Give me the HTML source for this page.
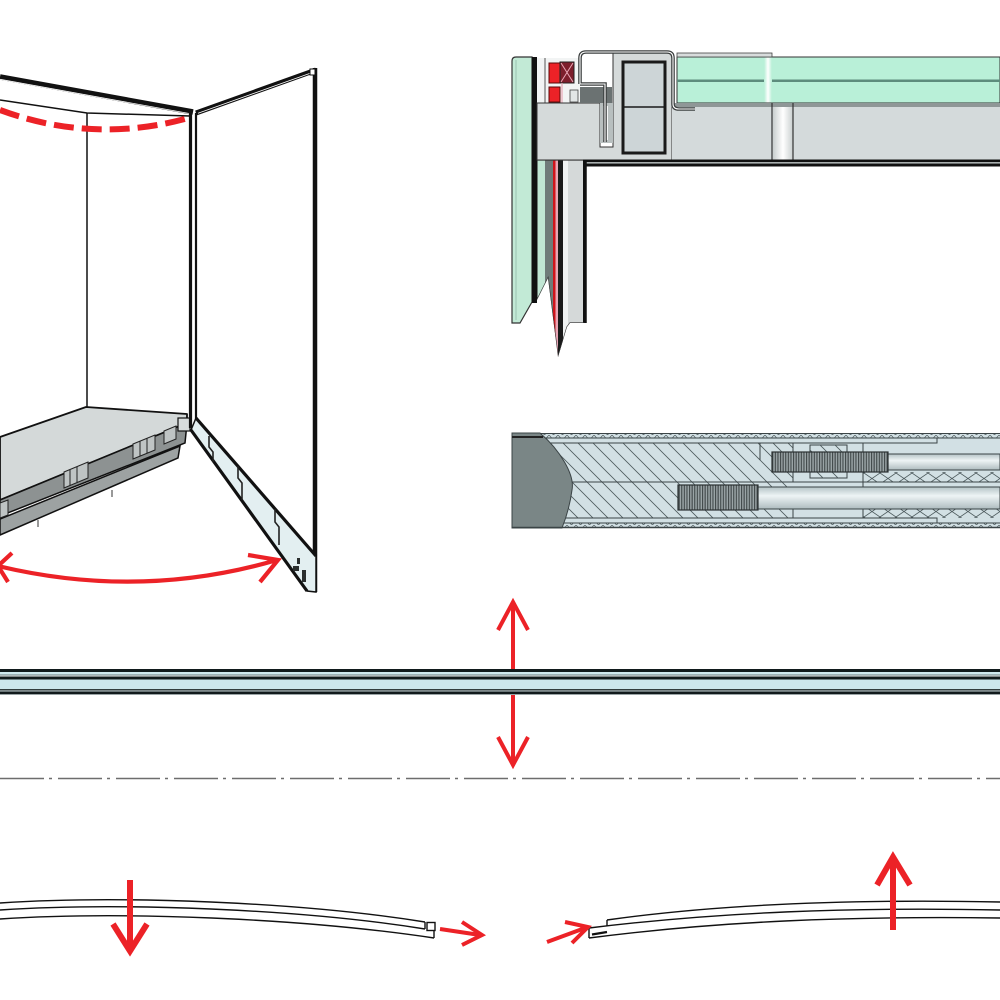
<!DOCTYPE html>
<html><head><meta charset="utf-8"><style>html,body{margin:0;padding:0;background:#fff}svg{display:block}</style></head>
<body>
<svg width="1000" height="1000" viewBox="0 0 1000 1000" xmlns="http://www.w3.org/2000/svg">
<defs>
 <pattern id="hatch" patternUnits="userSpaceOnUse" width="15" height="15"><path d="M-3,-3 L18,18 M-3,12 L3,18 M12,-3 L18,3" stroke="#4d5a5d" stroke-width="0.8" fill="none"/></pattern>
 <pattern id="xh" patternUnits="userSpaceOnUse" width="16" height="11"><path d="M0,0 L16,11 M0,11 L16,0" stroke="#4d5a5d" stroke-width="0.8" fill="none"/></pattern>
 <pattern id="tri" patternUnits="userSpaceOnUse" width="9" height="5"><path d="M0,0 L4.5,5 L9,0" stroke="#4d5a5d" stroke-width="0.7" fill="none"/></pattern>
 <pattern id="thr" patternUnits="userSpaceOnUse" width="2.6" height="10"><rect width="2.6" height="10" fill="#9aa4a6"/><rect width="1.1" height="10" fill="#3f4748"/></pattern>
 <linearGradient id="wband" x1="0" x2="1" y1="0" y2="0"><stop offset="0" stop-color="#c9cfcf"/><stop offset="0.5" stop-color="#ffffff"/><stop offset="1" stop-color="#c9cfcf"/></linearGradient>
 <linearGradient id="gband" x1="0" x2="1" y1="0" y2="0"><stop offset="0" stop-color="#b7efd6"/><stop offset="0.5" stop-color="#ffffff"/><stop offset="1" stop-color="#b7efd6"/></linearGradient>
 <linearGradient id="rodg" x1="0" y1="0" x2="0" y2="1"><stop offset="0" stop-color="#b4c3c6"/><stop offset="0.4" stop-color="#eef4f5"/><stop offset="1" stop-color="#aebcbf"/></linearGradient>
 <clipPath id="stripclip"><path d="M537,160 L586,160 L586,323 L570,323 L567,327 L558,357 L548,278 L537,300 Z"/></clipPath>
</defs>

<!-- ============ CABINET (top-left) ============ -->
<!-- back wall lines -->
<path d="M0,100 L87,113 L190,116" stroke="#111" stroke-width="1.5" fill="none"/>
<path d="M87,113 L87,407" stroke="#111" stroke-width="1.5" fill="none"/>
<!-- top thick edge -->
<path d="M0,77 L193,112" stroke="#111" stroke-width="5.5" fill="none"/>
<path d="M0,79.3 L190,113.6" stroke="#fff" stroke-width="0.8" fill="none"/>
<!-- red dashed arc -->
<path d="M0,110 Q95,145 192,117" stroke="#ec2227" stroke-width="6" fill="none" stroke-dasharray="20 8"/>

<!-- shelf -->
<path d="M0,437 L86,407 L187,414 L187,423 L0,500 Z" fill="#d4d9d9" stroke="#111" stroke-width="1.8" stroke-linejoin="round"/>
<path d="M0,500 L187,423 L185,443 L0,516 Z" fill="#8d9292" stroke="#111" stroke-width="1.5"/>
<path d="M0,519 L180,446 L178,458 L0,535 Z" fill="#9da2a2" stroke="#111" stroke-width="1.5"/>
<path d="M38,520 L38,527 M112,490 L112,497" stroke="#333" stroke-width="1"/>
<!-- brackets -->
<g fill="#bfc4c4" stroke="#222" stroke-width="1">
 <path d="M64,472 L88,462 L88,478 L64,488 Z"/>
 <path d="M133,444 L155,435 L155,450 L133,459 Z"/>
 <path d="M164,431 L176,426 L176,439 L164,444 Z"/>
 <path d="M0,503 L8,500 L8,515 L0,518 Z"/>
</g>
<path d="M70,470 L70,486 M77,467 L77,483 M140,441 L140,456 M147,438 L147,453" stroke="#222" stroke-width="1"/>
<!-- hinge bracket near post -->
<rect x="178" y="418" width="12" height="13" fill="#d8dcdc" stroke="#111" stroke-width="1.2"/>

<!-- post -->
<path d="M190.5,112 L190.5,428" stroke="#111" stroke-width="3.2"/>
<path d="M196,113 L196,420" stroke="#111" stroke-width="2.2"/>
<!-- door -->
<path d="M196,113 L316,70" stroke="#111" stroke-width="5" fill="none"/>
<path d="M198,113.3 L313,72.3" stroke="#fff" stroke-width="0.8" fill="none"/>
<path d="M315,68 L315,592" stroke="#111" stroke-width="4.5" fill="none"/>
<rect x="310" y="69" width="5" height="6" fill="#fff" stroke="#111" stroke-width="1"/>
<!-- door bottom rail -->
<path d="M196,418 L316,556 L316,592 L307,591 L191,430 Z" fill="#e3eff1" stroke="#111" stroke-width="1.5"/>
<path d="M196,418 L316,556" stroke="#111" stroke-width="3.2" fill="none"/>
<path d="M191,430 L307,591" stroke="#111" stroke-width="3.2" fill="none"/>
<g stroke="#222" stroke-width="1.6" fill="none">
 <path d="M209,436 L209,447 L213,452 L213,462"/>
 <path d="M238,466 L238,478 L242,483 L242,500"/>
 <path d="M275,509 L275,522 L279,527 L279,545"/>
</g>
<g fill="#2a2e2e">
 <rect x="293" y="566" width="6" height="5"/>
 <rect x="302" y="570" width="4" height="12"/>
 <rect x="297" y="558" width="3" height="6"/>
</g>

<!-- red curved double arrow -->
<path d="M-2,566 Q140,600 277,560" stroke="#ec2227" stroke-width="4.2" fill="none"/>
<path d="M248,555 L278,560 L260,582" stroke="#ec2227" stroke-width="4.2" fill="none" stroke-linejoin="miter"/>
<path d="M12,553 L-2,566 L8,582" stroke="#ec2227" stroke-width="4.2" fill="none"/>

<!-- ============ TOP-RIGHT SECTION ============ -->
<!-- left mint panel -->
<path d="M512,61 Q512,57 516,57 L532,57 L532,302 L520,323 L512,323 Z" fill="#c2ead6" stroke="#333" stroke-width="1.2"/>
<rect x="532" y="57" width="5" height="246" fill="#111"/>
<path d="M516,60 L516,320" stroke="#7fa898" stroke-width="0.6"/>
<!-- lower strips -->
<g clip-path="url(#stripclip)">
 <rect x="537" y="160" width="8" height="200" fill="#c0e6d3"/>
 <rect x="545" y="160" width="8" height="200" fill="#6f7b79"/>
 <rect x="553" y="160" width="2.5" height="200" fill="#d0141b"/>
 <rect x="555.5" y="160" width="2.5" height="200" fill="#e9a6b6"/>
 <rect x="558" y="160" width="5" height="200" fill="#1a1a1a"/>
 <rect x="563" y="160" width="5" height="200" fill="#f0f2f2"/>
 <rect x="568" y="160" width="15" height="200" fill="#d5d9d9"/>
 <rect x="583" y="160" width="3" height="200" fill="#111"/>
 <path d="M537,160 L586,160 L586,323 L570,323 L567,327 L558,357 L548,278 L537,300 Z" fill="none" stroke="#333" stroke-width="1.2"/>
</g>
<!-- upper-left parts -->
<rect x="537" y="58" width="43" height="45" fill="#f2f4f4"/>
<path d="M545,58 L545,103" stroke="#555" stroke-width="1"/>
<rect x="549" y="63" width="11" height="20" fill="#ec2227" stroke="#5a0a0a" stroke-width="1"/>
<rect x="549" y="87" width="11" height="15" fill="#ec2227" stroke="#5a0a0a" stroke-width="1"/>
<rect x="560" y="62" width="14" height="21" fill="#7d1e2c" stroke="#222" stroke-width="1"/>
<path d="M561,63 L573,82 M573,63 L561,82" stroke="#e9a6b6" stroke-width="1"/>
<path d="M562,83 L562,160" stroke="#e9a6b6" stroke-width="1.2"/>
<rect x="570" y="90" width="8" height="12" fill="#e2e6e6" stroke="#444" stroke-width="0.8"/>
<!-- light grey block -->
<path d="M537,103 L600,103 L600,147 L613,147 L613,53 L672,53 L672,160 L537,160 Z" fill="#d5dada" stroke="#333" stroke-width="1"/>
<path d="M580,87 L612,87 L612,103 L580,103 Z" fill="#6b7272"/>
<rect x="600" y="103" width="13" height="40" fill="#b8bfbf"/>
<rect x="603" y="106" width="5" height="34" fill="#f4f6f6"/>
<!-- square tube -->
<rect x="623" y="62" width="42" height="91" fill="#cdd5d7" stroke="#1a1a1a" stroke-width="3"/>
<path d="M623,107 L665,107" stroke="#1a1a1a" stroke-width="1.5"/>
<!-- glass -->
<rect x="677" y="57" width="323" height="46" fill="#b9f0d8" stroke="#333" stroke-width="1"/>
<rect x="677" y="79.5" width="323" height="2.5" fill="#5d8c7d"/>
<rect x="764" y="57.5" width="8" height="45" fill="url(#gband)"/>
<rect x="677" y="53" width="95" height="4" fill="#d8dcdc" stroke="#444" stroke-width="0.8"/>
<!-- below glass -->
<rect x="672" y="103" width="328" height="4" fill="#8f9797"/>
<rect x="672" y="107" width="328" height="53" fill="#d4dadb"/>
<rect x="773" y="107" width="20" height="53" fill="url(#wband)"/>
<path d="M772,103 L772,160 M793,103 L793,160" stroke="#333" stroke-width="1.2"/>
<!-- sheet metal profile -->
<path d="M580,84 L580,58 Q580,52 586,52 L667,52 Q673,52 673,58 L673,104 Q673,109 679,109 L695,109 M580,84 L605,84 L605,142" stroke="#3b3f3f" stroke-width="3.6" fill="none"/>
<path d="M580,84 L580,58 Q580,52 586,52 L667,52 Q673,52 673,58 L673,104 Q673,109 679,109 L695,109 M580,84 L605,84 L605,142" stroke="#fff" stroke-width="1.1" fill="none"/>
<!-- shelf line -->
<rect x="583" y="159.5" width="417" height="7" fill="#111"/>
<rect x="586" y="162" width="414" height="1.6" fill="#aab0b0"/>
<path d="M585.5,160 L585.5,323" stroke="#111" stroke-width="2.5"/>

<!-- ============ ROD SECTION ============ -->
<rect x="512" y="433" width="488" height="95" fill="#d2e0e4"/>
<rect x="543" y="443" width="250" height="75" fill="url(#hatch)"/>
<rect x="810" y="445" width="37" height="33" fill="#d2e0e4" stroke="#3b4446" stroke-width="1"/>
<rect x="810" y="445" width="37" height="33" fill="url(#hatch)"/>
<rect x="863" y="472" width="137" height="10" fill="url(#xh)"/>
<rect x="863" y="509" width="137" height="9" fill="url(#xh)"/>
<!-- bands -->
<rect x="540" y="433" width="460" height="5" fill="url(#tri)"/>
<rect x="540" y="523" width="460" height="5" fill="url(#tri)"/>
<g stroke="#3b4446" stroke-width="1" fill="none">
 <path d="M512,433.5 L1000,433.5"/>
 <path d="M540,438 L1000,438"/>
 <path d="M543,443 L937,443 L937,438"/>
 <path d="M560,518 L937,518 L937,523"/>
 <path d="M540,523 L1000,523"/>
 <path d="M572,482 L1000,482"/>
 <path d="M793,443 L793,482"/>
 <path d="M863,443 L863,518"/>
 <path d="M760,443 L760,460 M793,495 L793,518"/>
</g>
<!-- rods -->
<rect x="888" y="454" width="112" height="16" fill="url(#rodg)" stroke="#3b4446" stroke-width="1"/>
<rect x="772" y="452" width="116" height="20" fill="url(#thr)" stroke="#2b3132" stroke-width="1.2"/>
<rect x="758" y="487" width="242" height="22" fill="url(#rodg)" stroke="#3b4446" stroke-width="1"/>
<rect x="678" y="485" width="80" height="25" fill="url(#thr)" stroke="#2b3132" stroke-width="1.2"/>
<!-- dark left shape -->
<path d="M512,433 L540,433 C560,450 575,475 572,490 C570,505 566,518 562,528 L512,528 Z" fill="#7a8686" stroke="#3b4446" stroke-width="1"/>
<path d="M512,437 L543,437" stroke="#222" stroke-width="2"/>
<path d="M512,527.5 L1000,527.5" stroke="#3b4446" stroke-width="1.5"/>

<!-- ============ HORIZONTAL BAR ============ -->
<rect x="0" y="669" width="1000" height="3" fill="#111a1c"/>
<rect x="0" y="672" width="1000" height="2.5" fill="#cfe9ee"/>
<rect x="0" y="674.5" width="1000" height="1" fill="#6a7a7e"/>
<rect x="0" y="675.5" width="1000" height="1" fill="#f4f8f8"/>
<rect x="0" y="676.5" width="1000" height="3" fill="#111a1c"/>
<rect x="0" y="679.5" width="1000" height="9.5" fill="#cde6ec"/>
<rect x="0" y="689" width="1000" height="1.5" fill="#333c3e"/>
<rect x="0" y="690.5" width="1000" height="1" fill="#c8d6d8"/>
<rect x="0" y="691.5" width="1000" height="2.5" fill="#111a1c"/>
<rect x="0" y="694" width="1000" height="1" fill="#9aa4a6"/>

<!-- vertical red double arrow -->
<path d="M513,603 L513,669 M513,695 L513,764" stroke="#ec2227" stroke-width="4"/>
<path d="M498,630 L513,602 L528,630" stroke="#ec2227" stroke-width="4" fill="none"/>
<path d="M498,737 L513,765 L528,737" stroke="#ec2227" stroke-width="4" fill="none"/>

<!-- dash-dot center line -->
<path d="M0,778.5 L1000,778.5" stroke="#6d6d6d" stroke-width="1.5" stroke-dasharray="44 5 3 6"/>

<!-- ============ BENT PANELS ============ -->
<g stroke="#111" stroke-width="1.4" fill="none">
 <path d="M0,903 C120,895 300,902 425,922"/>
 <path d="M0,910 C120,902 300,909 425,929"/>
 <path d="M0,919 C120,911 300,918 434,938"/>
 <path d="M425,922 L425,929"/>
 <rect x="427" y="922.5" width="8" height="8"/>
 <path d="M434,931 L434,938"/>
 <path d="M607,920 C720,904 850,899 1000,902"/>
 <path d="M589,928 C720,912 850,907 1000,910"/>
 <path d="M589,938 C720,921 850,916 1000,918"/>
 <path d="M607,920 L607,926"/>
 <path d="M589,928 L589,938"/>
</g>
<path d="M592,934.5 L607,932" stroke="#111" stroke-width="2.2"/>

<!-- bottom red arrows -->
<g stroke="#ec2227" fill="none">
 <path d="M130,880 L130,949" stroke-width="6"/>
 <path d="M113,924 L130,951 L147,924" stroke-width="6"/>
 <path d="M440,929 L480,935" stroke-width="4"/>
 <path d="M462,922 L482,935 L462,945" stroke-width="4"/>
 <path d="M547,942 L585,928" stroke-width="4"/>
 <path d="M565,922 L588,927 L572,943" stroke-width="4"/>
 <path d="M893,930 L893,857" stroke-width="6"/>
 <path d="M877,885 L893,857 L910,885" stroke-width="6"/>
</g>
</svg>
</body></html>
